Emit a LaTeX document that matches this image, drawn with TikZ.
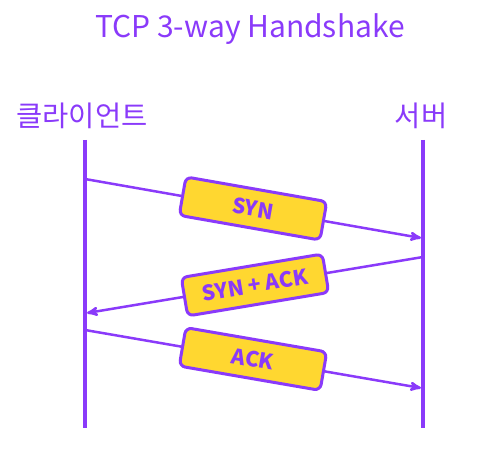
\documentclass[tikz,border=0pt]{standalone}
\usepackage{fontspec}
\setmainfont{Noto Sans CJK KR}
\usetikzlibrary{arrows,positioning}
\definecolor{hsviolet}{RGB}{138,58,250}
\definecolor{hsyellow}{RGB}{255,215,48}

\begin{document}
\begin{tikzpicture}[->, >=stealth', x=1pt, y=-1pt, semithick]
    \tikzstyle{host}=[text=hsviolet, font=\fontsize{28.5}{32}\selectfont]
    \tikzstyle{life}=[-, draw=hsviolet, line width=4pt]
    \tikzstyle{flow}=[draw=hsviolet, line width=2.5pt]
    \tikzstyle{msg}=[draw=hsviolet, fill=hsyellow, line width=3pt, rounded corners=6pt, sloped,
        minimum width=143pt, minimum height=39pt, text=hsviolet, font=\fontsize{21}{24}\selectfont\bfseries]
    \useasboundingbox (0,0) rectangle (493,457);
    \node[text=hsviolet, font=\fontsize{30}{36}\selectfont] (title) at (250,29) {TCP 3-way Handshake};
    \node[host] (client) at (82,116) {클라이언트};
    \node[host] (server) at (421,116) {서버};
    \coordinate (ctop) at (85,140);
    \coordinate (cbot) at (85,428);
    \coordinate (stop) at (423,140);
    \coordinate (sbot) at (423,428);
    \coordinate (c1) at (85,179);
    \coordinate (s1) at (421,238);
    \coordinate (s2) at (423,257);
    \coordinate (c2) at (87,313);
    \coordinate (c3) at (85,330);
    \coordinate (s3) at (421,388);
    \draw[life] (ctop) -- (cbot);
    \draw[life] (stop) -- (sbot);
    \path
    (c1) edge[flow] node[msg]{SYN} (s1)
    (s2) edge[flow] node[msg]{SYN + ACK} (c2)
    (c3) edge[flow] node[msg]{ACK} (s3);
\end{tikzpicture}
\end{document}
